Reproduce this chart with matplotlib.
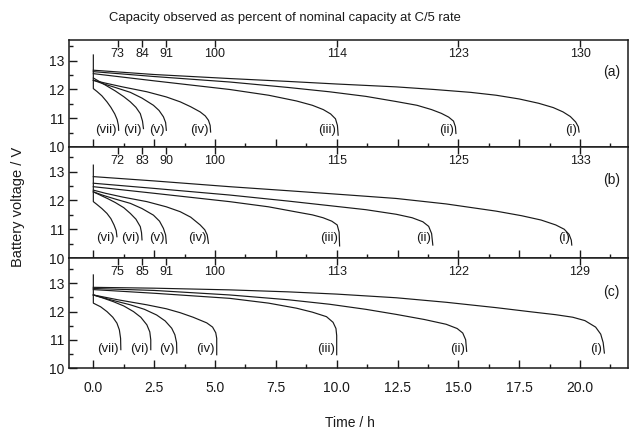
import matplotlib
matplotlib.use("Agg")
import matplotlib.pyplot as plt
from matplotlib.ticker import MultipleLocator
from matplotlib.transforms import blended_transform_factory

plt.rcParams['font.family'] = ['Liberation Sans', 'DejaVu Sans']

# ---------------- data ----------------
curve_names = ["(i)", "(ii)", "(iii)", "(iv)", "(v)", "(vi)", "(vii)"]
curve_names_b = ["(i)", "(ii)", "(iii)", "(iv)", "(v)", "(vi)", "(vi)"]

top_tick_times = [1, 2, 3, 5, 10, 15, 20]
top_labels_a = ["73", "84", "91", "100", "114", "123", "130"]
top_labels_b = ["72", "83", "90", "100", "115", "125", "133"]
top_labels_c = ["75", "85", "91", "100", "113", "122", "129"]

# panel (a): time (h) and voltage (V) for curves (i)..(vii)
a_t = [
    [0, 2.5, 5.6, 8, 10, 12.45, 14, 15.5, 16.55, 17.5, 18.3, 18.9, 19.3, 19.6, 19.82, 19.93, 19.96],
    [0, 2.5, 5.6, 8, 9.7, 11.2, 12.45, 13.3, 13.9, 14.3, 14.6, 14.8, 14.88, 14.9],
    [0, 2.5, 5.6, 7.2, 8.35, 9.0, 9.45, 9.75, 9.95, 10.03, 10.06],
    [0, 0.5, 1.2, 2.2, 3.0, 3.57, 4.0, 4.39, 4.6, 4.73, 4.8, 4.82],
    [0, 0.4, 0.9, 1.52, 2.0, 2.47, 2.7, 2.88, 2.97, 3.0],
    [0, 0.3, 0.6, 0.9, 1.25, 1.52, 1.75, 1.93, 2.02, 2.06],
    [0, 0, 0.15, 0.35, 0.56, 0.72, 0.88, 0.98, 1.03, 1.04],
]
a_v = [
    [12.67, 12.52, 12.38, 12.28, 12.19, 12.09, 12.0, 11.9, 11.8, 11.67, 11.52, 11.37, 11.22, 11.06, 10.87, 10.7, 10.52],
    [12.62, 12.45, 12.26, 12.07, 11.92, 11.76, 11.58, 11.45, 11.3, 11.17, 11.04, 10.9, 10.7, 10.47],
    [12.55, 12.3, 12.0, 11.8, 11.6, 11.45, 11.3, 11.15, 10.98, 10.75, 10.41],
    [12.32, 12.22, 12.09, 11.92, 11.74, 11.57, 11.4, 11.22, 11.08, 10.93, 10.75, 10.52],
    [12.32, 12.2, 12.07, 11.9, 11.7, 11.45, 11.27, 11.05, 10.85, 10.58],
    [12.4, 12.25, 12.1, 11.95, 11.75, 11.57, 11.38, 11.16, 10.9, 10.64],
    [13.2, 12.03, 11.93, 11.78, 11.57, 11.38, 11.15, 10.95, 10.75, 10.58],
]

# panel (b)
b_t = [
    [0, 2.5, 5.6, 8, 10.5, 12.45, 14.5, 16.55, 17.6, 18.4, 19.0, 19.35, 19.55, 19.64, 19.66],
    [0, 2.5, 5.6, 8, 9.71, 11.2, 12.45, 13.1, 13.54, 13.78, 13.9, 13.95],
    [0, 2.5, 5.6, 7.2, 8.35, 9.0, 9.44, 9.8, 10.02, 10.1, 10.12],
    [0, 0.5, 1.2, 2.2, 3.0, 3.57, 4.0, 4.39, 4.58, 4.68, 4.73],
    [0, 0.4, 0.9, 1.52, 2.0, 2.47, 2.72, 2.88, 2.97, 3.0],
    [0, 0.3, 0.6, 0.9, 1.25, 1.52, 1.75, 1.93, 1.98, 2.0],
    [0, 0, 0.15, 0.35, 0.56, 0.72, 0.85, 0.94, 0.97],
]
b_v = [
    [12.83, 12.68, 12.48, 12.34, 12.19, 12.07, 11.88, 11.63, 11.47, 11.32, 11.15, 11.0, 10.82, 10.62, 10.45],
    [12.6, 12.42, 12.19, 11.98, 11.82, 11.68, 11.52, 11.4, 11.26, 11.1, 10.85, 10.45],
    [12.48, 12.25, 11.96, 11.78, 11.6, 11.5, 11.4, 11.28, 11.15, 10.9, 10.42],
    [12.36, 12.25, 12.12, 11.96, 11.78, 11.61, 11.42, 11.15, 10.98, 10.8, 10.51],
    [12.3, 12.18, 12.05, 11.9, 11.72, 11.49, 11.28, 11.03, 10.8, 10.51],
    [12.3, 12.18, 12.06, 11.93, 11.75, 11.55, 11.35, 11.09, 10.88, 10.63],
    [13.23, 11.96, 11.86, 11.72, 11.55, 11.37, 11.15, 10.95, 10.74],
]

# panel (c)
c_t = [
    [0, 2.5, 5.6, 8, 10, 12.45, 14.5, 16.55, 18.0, 19.0, 19.7, 20.2, 20.64, 20.85, 20.95, 21.0],
    [0, 2.5, 5.6, 8, 9.71, 11.2, 12.45, 13.6, 14.5, 14.95, 15.18, 15.3, 15.34],
    [0, 2.5, 5.6, 7.2, 8.35, 9.0, 9.58, 9.85, 9.97, 10.0, 10.0],
    [0, 1, 2.2, 3.0, 3.57, 4.1, 4.66, 4.9, 5.03, 5.07, 5.07],
    [0, 0.7, 1.52, 2.1, 2.6, 2.95, 3.22, 3.35, 3.42, 3.43],
    [0, 0.4, 0.83, 1.25, 1.65, 1.95, 2.2, 2.32, 2.36, 2.36],
    [0, 0, 0.3, 0.56, 0.8, 0.97, 1.07, 1.12, 1.13],
]
c_v = [
    [12.86, 12.83, 12.77, 12.7, 12.62, 12.49, 12.33, 12.14, 11.99, 11.89, 11.8, 11.68, 11.45, 11.2, 10.9, 10.53],
    [12.82, 12.75, 12.59, 12.42, 12.26, 12.08, 11.9, 11.72, 11.55, 11.4, 11.24, 11.0, 10.59],
    [12.78, 12.65, 12.47, 12.3, 12.12, 11.98, 11.82, 11.62, 11.4, 11.15, 10.47],
    [12.59, 12.42, 12.24, 12.1, 11.96, 11.8, 11.6, 11.45, 11.25, 11.05, 10.47],
    [12.59, 12.42, 12.24, 12.08, 11.88, 11.67, 11.41, 11.18, 10.9, 10.53],
    [12.59, 12.48, 12.35, 12.2, 12.0, 11.8, 11.53, 11.28, 11.0, 10.65],
    [13.3, 12.3, 12.17, 12.0, 11.8, 11.59, 11.35, 11.05, 10.65],
]

panel_letters = ["(a)", "(b)", "(c)"]

# ---------------- figure ----------------
W, H = 629, 433
fig = plt.figure(figsize=(W / 100, H / 100), dpi=100)
left, right = 69 / W, 627.5 / W
top, bottom = 1 - 40 / H, 1 - 368 / H
gs = fig.add_gridspec(3, 1, left=left, right=right, top=top, bottom=bottom,
                      hspace=0, height_ratios=[107, 111, 110])

panels = [
    (a_t, a_v, curve_names, top_labels_a, 13.72, 10.58, 12.6),
    (b_t, b_v, curve_names_b, top_labels_b, 13.86, 10.68, 12.71),
    (c_t, c_v, curve_names, top_labels_c, 13.9, 10.67, 12.7),
]

ink = "#1a1a1a"
axes = []
for k, (ts, vs, names, tlabels, ytop, label_v, letter_v) in enumerate(panels):
    ax = fig.add_subplot(gs[k])
    axes.append(ax)
    for t, v, name in zip(ts, vs, names):
        ax.plot(t, v, color=ink, lw=0.85, solid_joinstyle='round')
        ax.annotate(name, xy=(t[-1], label_v), xytext=(-1.5, 0),
                    textcoords='offset points', ha='right', va='center',
                    fontsize=9.5, color=ink)
    ax.set_xlim(-1.0, 21.95)
    ax.set_ylim(10, ytop)
    ax.xaxis.set_major_locator(MultipleLocator(2.5))
    ax.xaxis.set_minor_locator(MultipleLocator(1.25))
    ax.yaxis.set_major_locator(MultipleLocator(1))
    ax.yaxis.set_minor_locator(MultipleLocator(0.5))
    ax.tick_params(which='both', direction='in', top=False, right=False,
                   colors=ink, labelsize=10)
    ax.tick_params(which='major', length=6, width=1.0)
    ax.tick_params(which='minor', length=3, width=1.0)
    for s in ax.spines.values():
        s.set_linewidth(1.1)
        s.set_color(ink)
    if k < 2:
        ax.tick_params(labelbottom=False)
    ax.set_yticks([10, 11, 12, 13])
    ax.set_yticklabels(["10", "11", "12", "13"])

    sec = ax.secondary_xaxis('top')
    sec.set_xticks(top_tick_times)
    sec.tick_params(direction='in', length=5, width=1.0, labeltop=False, colors=ink)
    sec.spines['top'].set_visible(False)
    trans = blended_transform_factory(ax.transData, ax.transAxes)
    for tt, lab in zip(top_tick_times, tlabels):
        ax.text(tt, 0.87, lab, transform=trans, ha='center', va='center',
                fontsize=9, color=ink)
    ax.text(21.3, letter_v, panel_letters[k], ha='center', va='center',
            fontsize=10, color=ink)

axes[2].set_xticks([0, 2.5, 5, 7.5, 10, 12.5, 15, 17.5, 20])
axes[2].set_xticklabels(["0.0", "2.5", "5.0", "7.5", "10.0", "12.5", "15.0", "17.5", "20.0"])
axes[2].tick_params(axis='x', which='major', pad=9)

fig.text(284.5 / W, 1 - 18 / H,
         "Capacity observed as percent of nominal capacity at C/5 rate",
         ha='center', va='center', fontsize=9.4, color=ink)
fig.text(18 / W, 1 - 207 / H, "Battery voltage / V", rotation=90,
         ha='center', va='center', fontsize=10.5, color=ink)
fig.text(350 / W, 1 - 423 / H, "Time / h", ha='center', va='center',
         fontsize=10, color=ink)

fig.savefig("out.png", dpi=100)
